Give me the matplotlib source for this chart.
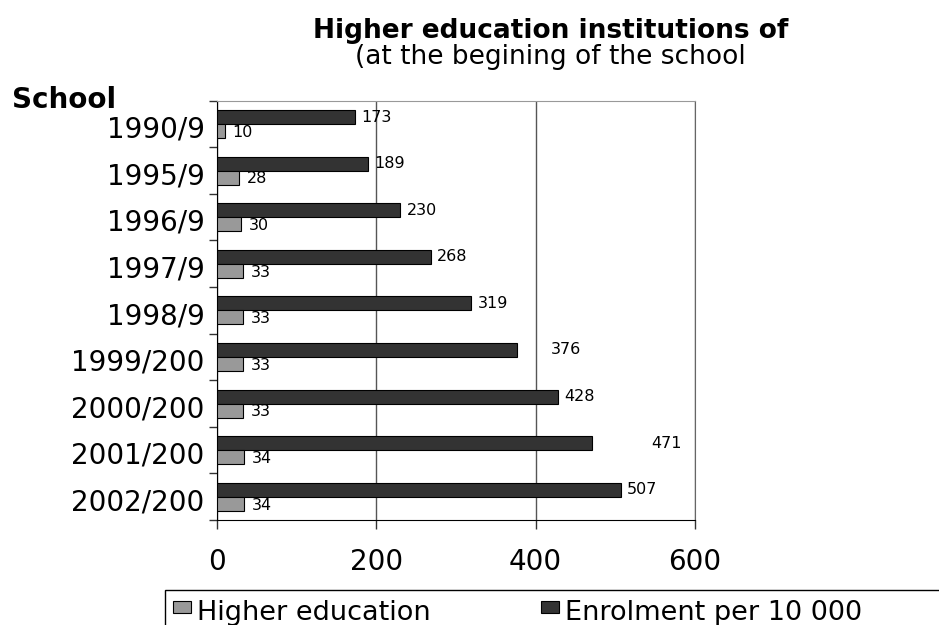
import numpy as np
import matplotlib
matplotlib.use('Agg')
import matplotlib.pyplot as plt
import matplotlib.transforms as mtransforms
from matplotlib.patches import Rectangle

# school years, top to bottom
years = ['1990/9', '1995/9', '1996/9', '1997/9', '1998/9',
         '1999/200', '2000/200', '2001/200', '2002/200']
higher_ed = [10, 28, 30, 33, 33, 33, 33, 34, 34]
enrolment = [173, 189, 230, 268, 319, 376, 428, 471, 507]
xticks = [0, 200, 400, 600]

W, H = 939, 625


def fx(px):
    return px / W


def fy(py):
    return 1 - py / H


fig = plt.figure(figsize=(W / 100, H / 100), dpi=100)
ax = fig.add_axes([fx(217), fy(520), fx(695 - 217), (520 - 100.7) / H])

y = np.arange(len(years))
bw = 0.3
ax.barh(y - bw / 2, enrolment, height=bw, color='#333333',
        edgecolor='black', linewidth=0.8, zorder=3)
ax.barh(y + bw / 2, higher_ed, height=bw, color='#999999',
        edgecolor='black', linewidth=0.8, zorder=3)

ax.set_xlim(0, 600)
ax.set_ylim(len(years) - 0.5, -0.5)

# value labels; a couple of them sit further right
shift = {5: 20, 7: 38}
for i, v in enumerate(enrolment):
    ax.annotate(str(v), xy=(v, i - bw / 2), xytext=(4.5 + shift.get(i, 0), 0),
                textcoords='offset points', va='center', ha='left', fontsize=11.5)
for i, v in enumerate(higher_ed):
    ax.annotate(str(v), xy=(v, i + bw / 2), xytext=(5.5, -1),
                textcoords='offset points', va='center', ha='left', fontsize=11.5)

# ticks at category boundaries, labels at centres
ax.set_yticks(np.arange(-0.5, len(years)))
ax.set_yticklabels([])
ax.set_yticks(y, minor=True)
ax.set_yticklabels(years, minor=True, fontsize=20)
ax.tick_params(axis='y', which='major', length=6, width=1, direction='out', color='#333333')
ax.tick_params(axis='y', which='minor', length=0, pad=9)
off = mtransforms.ScaledTranslation(0, -2 / 72, fig.dpi_scale_trans)
for lbl in ax.get_yticklabels(minor=True):
    lbl.set_transform(lbl.get_transform() + off)

ax.set_xticks(xticks)
ax.set_xticklabels([str(t) for t in xticks], fontsize=20)
ax.tick_params(axis='x', length=6.5, width=1, direction='out', pad=14, color='#333333')

ax.xaxis.grid(True, color='#555555', linewidth=1)
ax.set_axisbelow(True)
ax.spines['left'].set_color('black')
ax.spines['bottom'].set_color('black')
ax.spines['right'].set_color('#666666')
ax.spines['top'].set_color('#999999')

fig.text(fx(551), fy(38.3), 'Higher education institutions of', ha='center',
         va='baseline', fontsize=19, fontweight='bold')
fig.text(fx(550), fy(64), '(at the begining of the school', ha='center',
         va='baseline', fontsize=19)
fig.text(fx(12), fy(108.3), 'School', ha='left', va='baseline',
         fontsize=20, fontweight='bold')

# legend box running off the bottom-right corner
fig.patches.append(Rectangle((fx(165), fy(640)), fx(800), (640 - 590) / H,
                             transform=fig.transFigure, facecolor='none',
                             edgecolor='black', linewidth=1))
for x0, col, name in [(173, '#999999', 'Higher education'),
                      (541, '#333333', 'Enrolment per 10 000')]:
    fig.patches.append(Rectangle((fx(x0), fy(613)), fx(18), 12.3 / H,
                                 transform=fig.transFigure, facecolor=col,
                                 edgecolor='black', linewidth=0.8))
    fig.text(fx(x0 + 24), fy(620), name, ha='left', va='baseline', fontsize=19.5)

fig.savefig('out.png', dpi=100)
